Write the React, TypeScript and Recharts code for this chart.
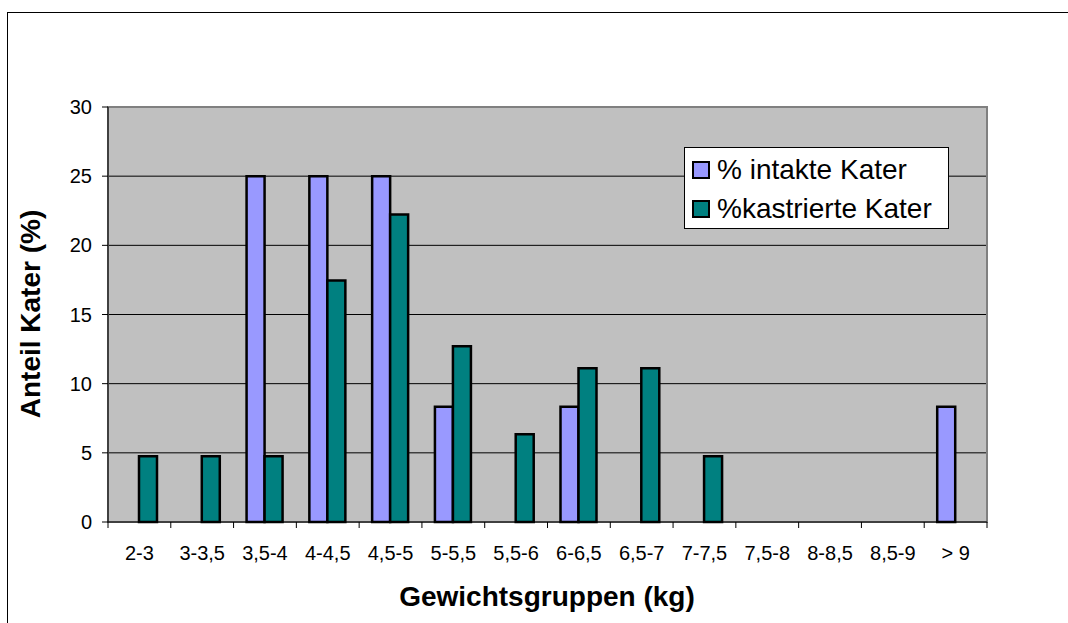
import { BarChart, Bar, XAxis, YAxis, CartesianGrid, Legend, ReferenceArea } from "recharts";

const categories = ["2-3", "3-3,5", "3,5-4", "4-4,5", "4,5-5", "5-5,5", "5,5-6", "6-6,5", "6,5-7", "7-7,5", "7,5-8", "8-8,5", "8,5-9", "> 9"];
const intakte = [0, 0, 25, 25, 25, 8.33, 0, 8.33, 0, 0, 0, 0, 0, 8.33];
const kastrierte = [4.76, 4.76, 4.76, 17.46, 22.22, 12.7, 6.35, 11.11, 11.11, 4.76, 0, 0, 0, 0];
const yTicks = [0, 5, 10, 15, 20, 25, 30];
const seriesNames = ["% intakte Kater", "%kastrierte Kater"];
const seriesColors = ["#9999FF", "#008080"];

const data = categories.map((c, i) => ({ group: c, intakte: intakte[i], kastrierte: kastrierte[i] }));

const FONT = '"Liberation Sans", Arial, sans-serif';

function XTick(props: any) {
  const { x, y, payload, index } = props;
  const half = payload && payload.offset ? payload.offset : 879 / 14 / 2;
  const axisY = y - 6;
  return (
    <g>
      <line x1={x - half} y1={axisY} x2={x - half} y2={axisY + 6} stroke="#000" />
      {index === categories.length - 1 && (
        <line x1={x + half} y1={axisY} x2={x + half} y2={axisY + 6} stroke="#000" />
      )}
      <text x={x} y={axisY + 38} textAnchor="middle" fontSize={20} fontFamily={FONT} fill="#000">
        {payload.value}
      </text>
    </g>
  );
}

function LegendBox() {
  return (
    <div
      style={{
        width: 265,
        height: 82,
        background: "#fff",
        border: "1px solid #000",
        fontFamily: FONT,
        fontSize: 28,
        color: "#000",
        paddingTop: 2,
        boxSizing: "border-box",
      }}
    >
      {seriesNames.map((name, i) => (
        <div key={name} style={{ display: "flex", alignItems: "center", height: 39, paddingLeft: 7 }}>
          <span
            style={{
              display: "inline-block",
              width: 14,
              height: 14,
              background: seriesColors[i],
              border: "2px solid #000",
              marginRight: 7,
            }}
          />
          <span>{name}</span>
        </div>
      ))}
    </div>
  );
}

export default function App() {
  return (
    <div style={{ position: "absolute", left: 0, top: 0, width: 1068, height: 623, overflow: "hidden", background: "#fff" }}>
      <div
        style={{
          position: "absolute",
          left: 7,
          top: 12,
          width: 1200,
          height: 800,
          border: "1px solid #000",
        }}
      />
      <div style={{ position: "absolute", left: 0, top: 0 }}>
        <BarChart
          width={1068}
          height={623}
          data={data}
          margin={{ top: 107, right: 81, bottom: 61, left: 48 }}
          barSize={18}
          barGap={0}
        >
          <CartesianGrid vertical={false} stroke="#000" fill="#C0C0C0" fillOpacity={1} />
          <ReferenceArea y1={0} y2={30} fill="none" stroke="#808080" strokeWidth={2} ifOverflow="visible" />
          <XAxis
            dataKey="group"
            interval={0}
            stroke="#000"
            tickLine={false}
            tickSize={6}
            tickMargin={0}
            height={40}
            tick={<XTick />}
          />
          <YAxis
            domain={[0, 30]}
            ticks={yTicks}
            interval={0}
            width={60}
            stroke="#000"
            tickSize={6}
            tickMargin={10}
            tick={{ fill: "#000", fontSize: 20, fontFamily: FONT }}
          />
          <Legend
            layout="vertical"
            align="center"
            verticalAlign="middle"
            content={() => <LegendBox />}
            wrapperStyle={{ position: "absolute", left: 684, top: 147, width: 265, height: 82 }}
          />
          <Bar dataKey="intakte" name={seriesNames[0]} fill={seriesColors[0]} stroke="#000" strokeWidth={2.5} isAnimationActive={false} />
          <Bar dataKey="kastrierte" name={seriesNames[1]} fill={seriesColors[1]} stroke="#000" strokeWidth={2.5} isAnimationActive={false} />
        </BarChart>
      </div>
      <div
        style={{
          position: "absolute",
          left: 347,
          width: 400,
          top: 580,
          textAlign: "center",
          fontFamily: FONT,
          fontWeight: "bold",
          fontSize: 28,
          lineHeight: "34px",
          color: "#000",
        }}
      >
        Gewichtsgruppen (kg)
      </div>
      <div
        style={{
          position: "absolute",
          left: 31 - 150,
          top: 314 - 17,
          width: 300,
          textAlign: "center",
          transform: "rotate(-90deg)",
          fontFamily: FONT,
          fontWeight: "bold",
          fontSize: 28,
          lineHeight: "34px",
          color: "#000",
        }}
      >
        Anteil Kater (%)
      </div>
    </div>
  );
}
